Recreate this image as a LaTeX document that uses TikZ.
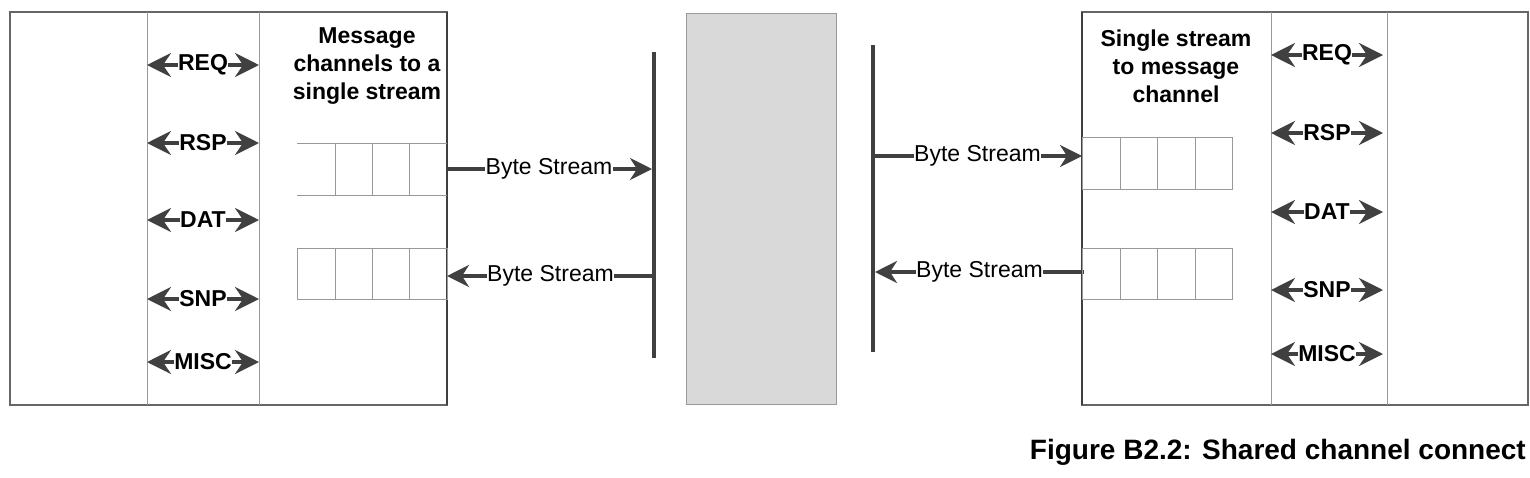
\documentclass[tikz,border=0pt]{standalone}
\usepackage{fontspec}
\setmainfont{Liberation Sans}
\usetikzlibrary{arrows.meta}
\definecolor{dk}{HTML}{404040}
\definecolor{lg}{HTML}{999999}
\begin{document}
\begin{tikzpicture}[x=1pt,y=-1pt,
  ar/.style={draw=dk,line width=3.5pt,-{Stealth[length=22pt,width=22pt,inset=7pt]}},
  bar/.style={dk,line width=4pt},
  lab/.style={fill=white,inner sep=0.5pt,font=\fontsize{23}{23}\selectfont},
  chlab/.style={fill=white,inner sep=0pt,font=\bfseries\fontsize{23}{23}\selectfont},
  ttl/.style={align=center,font=\bfseries\fontsize{23}{28}\selectfont},
  cell/.style={draw=lg,line width=1pt}]
\useasboundingbox (0,0) rectangle (1530,477);
% left block
\draw[dk!80,line width=1.5pt] (10,12) rectangle (447,405);
\draw[lg,line width=1pt] (147,12) -- (147,405) (259,12) -- (259,405);
\draw[dk,line width=2pt] (447,12) -- (447,405);
\node[ttl] (tl) at (367,66) {Message\\channels to a\\single stream};
% left queues
\draw[cell] (297,143) -- (447,143) (297,195) -- (447,195);
\foreach \x in {335,372,409} \draw[cell] (\x,143) -- (\x,195);
\draw[cell] (297,248) rectangle (447,299);
\foreach \x in {335,372,409} \draw[cell] (\x,248) -- (\x,299);
% middle
\draw[lg,fill=black!15,line width=1pt] (686,13) rectangle (836,404);
\draw[bar] (654,52) coordinate (b1t) -- (654,358) coordinate (b1b);
\draw[bar] (873,45) coordinate (b2t) -- (873,352) coordinate (b2b);
\coordinate (l1) at (446,169); \coordinate (m1) at (652,169);
\coordinate (l2) at (447,276); \coordinate (m2) at (654,276);
\draw[ar] (l1) -- node[lab] (bs1) {Byte Stream} (m1);
\draw[ar] (m2) -- node[lab] (bs2) {Byte Stream} (l2);
\coordinate (m3) at (873,156); \coordinate (r3) at (1082,156);
\coordinate (m4) at (875,272); \coordinate (r4) at (1084,272);
\draw[ar] (m3) -- node[lab] (bs3) {Byte Stream} (r3);
\draw[ar] (r4) -- node[lab] (bs4) {Byte Stream} (m4);
% right block
\draw[dk!80,line width=1.5pt] (1082,12) rectangle (1528,405);
\draw[lg,line width=1pt] (1271,12) -- (1271,405) (1387,12) -- (1387,405);
\draw[dk,line width=2pt] (1082,12) -- (1082,405);
\node[ttl] (tr) at (1176,66) {Single stream\\to message\\channel};
\draw[cell] (1082,137) rectangle (1232,189);
\foreach \x in {1120,1157,1195} \draw[cell] (\x,137) -- (\x,189);
\draw[cell] (1082,248) rectangle (1232,299);
\foreach \x in {1120,1157,1195} \draw[cell] (\x,248) -- (\x,299);
% channel arrows
\foreach \y/\t in {65/REQ,143/RSP,220/DAT,299/SNP,362/MISC}
  \draw[ar,{Stealth[length=24pt,width=24pt,inset=8pt]}-{Stealth[length=24pt,width=24pt,inset=8pt]}] (147,\y) -- node[chlab] {\t} (259,\y);
\foreach \y/\t in {55/REQ,133/RSP,212/DAT,290/SNP,354/MISC}
  \draw[ar,{Stealth[length=24pt,width=24pt,inset=8pt]}-{Stealth[length=24pt,width=24pt,inset=8pt]}] (1271,\y) -- node[chlab] {\t} (1383,\y);
\node[anchor=east,font=\bfseries\fontsize{28}{28}\selectfont,inner sep=0pt] (cap) at (1526,452) {Figure B2.2: Shared channel connect};
\end{tikzpicture}
\end{document}
